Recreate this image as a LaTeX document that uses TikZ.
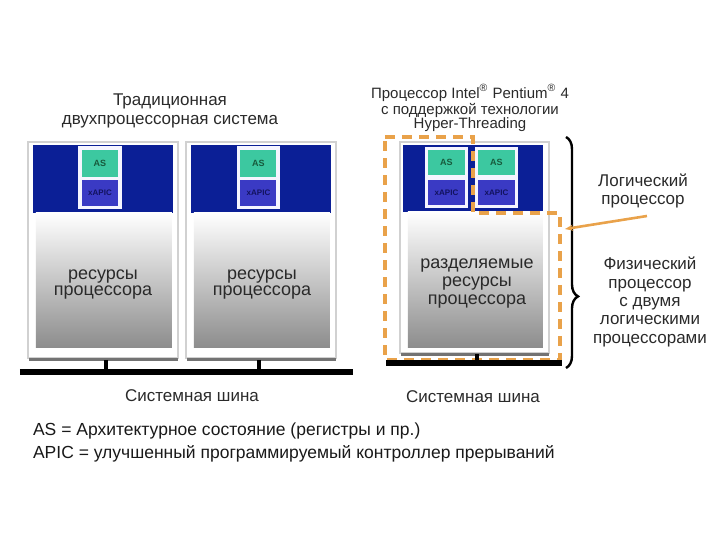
\documentclass[tikz,border=0pt]{standalone}
\usepackage{fontspec}
\setmainfont{Liberation Sans}
\usetikzlibrary{decorations.pathreplacing,arrows.meta}

\definecolor{band}{HTML}{0B1F96}
\definecolor{asgreen}{HTML}{3CC8A0}
\definecolor{asgtext}{HTML}{175A3C}
\definecolor{apicblue}{HTML}{3A3AC4}
\definecolor{apictext}{HTML}{12125E}
\definecolor{htorange}{HTML}{E9A24A}
\definecolor{txt}{HTML}{2A2A2A}

\begin{document}
\begin{tikzpicture}[x=0.5pt,y=-0.5pt,
	frame/.style={draw=black!18,line width=1pt,fill=white},
	shadowline/.style={draw=black!55,line width=1.2pt},
	bandbox/.style={fill=band},
	slotbox/.style={fill=blue!4!white},
	res/.style={top color=white,bottom color=black!45},
	asbox/.style={rectangle,fill=asgreen,text=asgtext,font=\fontsize{4.5}{5}\selectfont\bfseries,inner sep=0pt},
	apicbox/.style={rectangle,fill=apicblue,text=apictext,font=\fontsize{4}{5}\selectfont\bfseries,inner sep=0pt},
	label/.style={text=txt,align=center},
	bus/.style={line width=2.6pt},
	stub/.style={line width=1.6pt},
	htline/.style={draw=htorange,line width=1.6pt,dash pattern=on 5pt off 3.5pt},
	pointer/.style={draw=htorange,line width=1.3pt,-{Stealth[length=4pt]}}]
	\useasboundingbox (0,0) rectangle (720,540);
	% traditional dual-processor system
	\node[label,font=\fontsize{8.5}{9.5}\selectfont] (T1) at (170,111) {Традиционная\\двухпроцессорная система};
	\fill[frame] (28,142) rectangle (178,358);
	\draw[shadowline] (29,359.5) -- (178,359.5);
	\fill[bandbox] (33,145) rectangle (173,213);
	\shade[res] (36,213) rectangle (172,348);
	\fill[slotbox] (78,146) rectangle (122,209);
	\node[asbox,minimum width=18pt,minimum height=13.5pt] (AS1) at (100,163.5) {AS};
	\node[apicbox,minimum width=18pt,minimum height=13pt] (AP1) at (100,193) {xAPIC};
	\node[label,font=\fontsize{9}{8}\selectfont] (R1) at (103,285) {ресурсы\\процессора};
	\fill[frame] (186,142) rectangle (336,358);
	\draw[shadowline] (187,359.5) -- (336,359.5);
	\fill[bandbox] (191,145) rectangle (331,213);
	\shade[res] (194,213) rectangle (330,348);
	\fill[slotbox] (237,146) rectangle (280,209);
	\node[asbox,minimum width=18pt,minimum height=13.5pt] (AS2) at (258.5,163.5) {AS};
	\node[apicbox,minimum width=18pt,minimum height=13pt] (AP2) at (258.5,193) {xAPIC};
	\node[label,font=\fontsize{9}{8}\selectfont] (R2) at (262,285) {ресурсы\\процессора};
	\coordinate (B1w) at (20,372);
	\coordinate (B1e) at (353,372);
	\draw[bus] (B1w) -- (B1e);
	\draw[stub] (106,360) -- (106,372);
	\draw[stub] (259,360) -- (259,372);
	\node[label,font=\fontsize{8.5}{9.5}\selectfont] (S1) at (192,396) {Системная шина};
	% Hyper-Threading processor
	\node[label,font=\fontsize{7.5}{7}\selectfont] (T2) at (470,108) {Процессор Intel\textsuperscript{®} Pentium\textsuperscript{®} 4\\с поддержкой технологии\\Hyper-Threading};
	\fill[frame] (400,142) rectangle (549,353);
	\draw[shadowline] (401,354.5) -- (549,354.5);
	\fill[bandbox] (403,145) rectangle (543,212);
	\shade[res] (408,212) rectangle (543,348);
	\fill[slotbox] (425,147) rectangle (468,208);
	\fill[slotbox] (475,147) rectangle (518,208);
	\node[asbox,minimum width=18.5pt,minimum height=12.5pt] (AS3) at (446.5,162.5) {AS};
	\node[apicbox,minimum width=18.5pt,minimum height=12.5pt] (AP3) at (446.5,192.5) {xAPIC};
	\node[asbox,minimum width=18.5pt,minimum height=12.5pt] (AS4) at (496.5,162.5) {AS};
	\node[apicbox,minimum width=18.5pt,minimum height=12.5pt] (AP4) at (496.5,192.5) {xAPIC};
	\node[label,font=\fontsize{9}{9}\selectfont] (R3) at (477,284) {разделяемые\\ресурсы\\процессора};
	\draw[htline] (385,137) -- (473,137) -- (473,213) -- (560,213) -- (560,360) -- (385,360) -- cycle;
	\coordinate (B2w) at (386,363);
	\coordinate (B2e) at (562,363);
	\draw[bus] (B2w) -- (B2e);
	\draw[stub] (477,354) -- (477,363);
	\node[label,font=\fontsize{8.5}{9.5}\selectfont] (S2) at (473,397) {Системная шина};
	% brace and labels
	\coordinate (BrT) at (566,137);
	\coordinate (BrB) at (566,368);
	\draw[line width=1.2pt,decorate,decoration={brace,amplitude=6pt,aspect=0.69}] (BrT) -- (BrB);
	\node[label,font=\fontsize{8.5}{9}\selectfont] (LP) at (643,191) {Логический\\процессор};
	\node[label,font=\fontsize{8.5}{9.2}\selectfont] (PP) at (650,302) {Физический\\процессор\\с двумя\\логическими\\процессорами};
	\coordinate (LPfrom) at (647,216);
	\coordinate (LPto) at (565,229);
	\draw[pointer] (LPfrom) -- (LPto);
	% legend
	\node[anchor=west,text=black!90,align=left,font=\fontsize{8.75}{11.5}\selectfont] (L) at (26,442) {AS = Архитектурное состояние (регистры и пр.)\\APIC = улучшенный программируемый контроллер прерываний};
\end{tikzpicture}
\end{document}
